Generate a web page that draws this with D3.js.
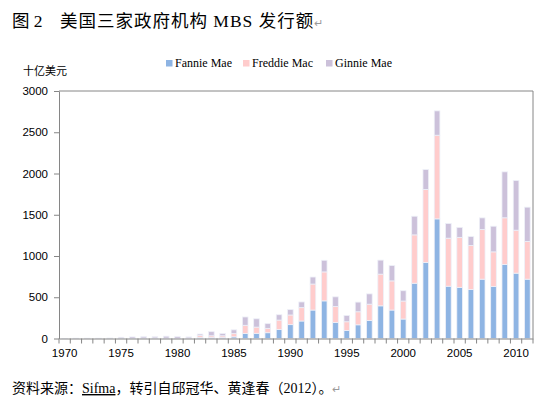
<!DOCTYPE html>
<html>
<head>
<meta charset="utf-8">
<script src="https://cdn.jsdelivr.net/npm/d3@7"></script>
<style>
  body { margin: 0; background: #fff; }
  svg { display: block; }
  .axis path, .axis line { stroke: #868686; }
  .axis text { font-family: "Liberation Sans", Arial, sans-serif; font-size: 11.5px; fill: #000; }
  .serif { font-family: "Liberation Serif", "Times New Roman", "Noto Sans CJK SC", serif; }
</style>
</head>
<body>
<svg id="chart" width="539" height="398"></svg>
<script>
const years = d3.range(1970, 2012)
const fannie = [0, 0, 0, 0, 0, 0, 0, 0, 0, 0, 0, 1, 14, 13, 14, 20, 60, 63, 70, 110, 168, 212, 345, 456, 194, 98, 166, 218, 396, 345, 236, 670, 921, 1450, 634, 620, 594, 719, 630, 897, 792, 719]
const freddie = [0, 1, 1, 1, 1, 1, 1, 5, 6, 4, 2, 4, 24, 20, 19, 39, 100, 75, 53, 113, 117, 162, 315, 351, 194, 105, 158, 198, 384, 353, 218, 586, 885, 1014, 582, 606, 533, 602, 420, 566, 521, 457]
const ginnie = [1, 3, 3, 3, 5, 14, 18, 17, 15, 24, 20, 14, 16, 50, 28, 46, 101, 101, 57, 65, 65, 69, 85, 141, 117, 77, 117, 125, 170, 186, 125, 226, 242, 295, 178, 121, 109, 141, 311, 557, 602, 416]
const seriesNames = ['Fannie Mae', 'Freddie Mac', 'Ginnie Mae']
const yTicks = [0, 500, 1000, 1500, 2000, 2500, 3000]
const xLabels = [1970, 1975, 1980, 1985, 1990, 1995, 2000, 2005, 2010]

const colors = ['#8eb4e3', '#ffcccc', '#ccc1da']

const svg = d3.select('#chart')
const plot = { left: 59, right: 533, top: 91, bottom: 338.5 }

const rows = years.map((yr, i) => ({ year: yr, 'Fannie Mae': fannie[i], 'Freddie Mac': freddie[i], 'Ginnie Mae': ginnie[i] }))
const stacked = d3.stack().keys(seriesNames)(rows)

const x = d3.scaleBand().domain(years).range([plot.left, plot.right]).paddingInner(0.5).paddingOuter(0.25)
const y = d3.scaleLinear().domain([0, 3000]).range([plot.bottom, plot.top])

// title
svg.append('text').attr('class', 'serif').attr('x', 12).attr('y', 27)
  .style('font-size', '17.5px').text('图 2')
svg.append('text').attr('class', 'serif').attr('x', 60).attr('y', 27)
  .style('font-size', '17.5px').style('letter-spacing', '1px').text('美国三家政府机构 MBS 发行额')
  .append('tspan').style('fill', '#9a9a9a').style('font-size', '11px').style('letter-spacing', '0').text('↵')

// unit
svg.append('text').attr('x', 23).attr('y', 75)
  .style('font-family', '"Noto Sans CJK SC", sans-serif').style('font-size', '11px').text('十亿美元')

// frame
svg.append('path')
  .attr('d', `M${plot.left},${plot.top}H${plot.right}V${plot.bottom}`)
  .attr('fill', 'none').attr('stroke', '#868686')

// bars
svg.append('g').selectAll('g').data(stacked).join('g')
  .attr('fill', (d, i) => colors[i])
  .selectAll('rect').data(d => d).join('rect')
  .attr('x', d => x(d.data.year))
  .attr('width', x.bandwidth())
  .attr('y', d => y(d[1]))
  .attr('height', d => y(d[0]) - y(d[1]))
  .attr('stroke', '#eef0f8').attr('stroke-width', 0.8)

// y axis
svg.append('g').attr('class', 'axis').attr('transform', `translate(${plot.left},0)`)
  .call(d3.axisLeft(y).tickValues(yTicks).tickFormat(d3.format('d')).tickSize(5).tickSizeOuter(0).tickPadding(6))

// x axis
const xAxis = svg.append('g').attr('class', 'axis').attr('transform', `translate(0,${plot.bottom})`)
xAxis.call(d3.axisBottom(x).tickValues(xLabels).tickSize(0).tickSizeOuter(0).tickPadding(10))
const bounds = years.map(yr => x(yr) - x.step() * 0.25).concat([plot.right])
xAxis.selectAll('.bound').data(bounds).join('line').attr('class', 'bound')
  .attr('x1', d => d).attr('x2', d => d).attr('y1', 0).attr('y2', 5)

// legend
const legendX = [166, 243, 326]
const legend = svg.append('g').selectAll('g').data(seriesNames).join('g')
  .attr('transform', (d, i) => `translate(${legendX[i]},60)`)
legend.append('rect').attr('width', 6.5).attr('height', 6.5).attr('fill', (d, i) => colors[i])
legend.append('text').attr('class', 'serif').attr('x', 9).attr('y', 6.5)
  .style('font-size', '12px').text(d => d)

// source
const src = svg.append('text').attr('class', 'serif').attr('x', 12).attr('y', 393).style('font-size', '14px')
src.append('tspan').text('资料来源：')
src.append('tspan').style('text-decoration', 'underline wavy #e03030').text('Sifma')
src.append('tspan').text('，转引自邱冠华、黄逢春（2012）。')
src.append('tspan').style('fill', '#9a9a9a').style('font-size', '11px').text('↵')
</script>
</body>
</html>
